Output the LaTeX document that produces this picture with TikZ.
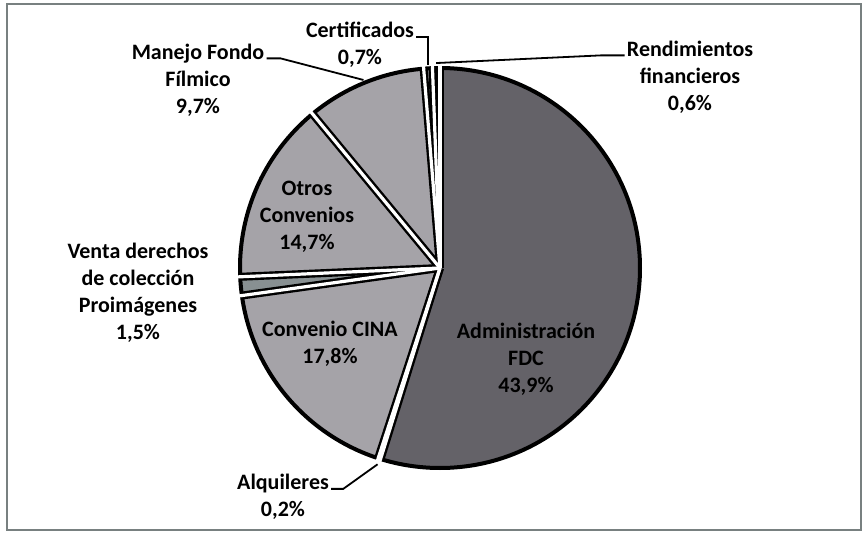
\documentclass[tikz,border=0pt]{standalone}
\usepackage{fontspec}
\setmainfont{Carlito}
\usetikzlibrary{calc}
\definecolor{darkslice}{RGB}{100,98,104}
\definecolor{lightslice}{RGB}{165,163,168}
\definecolor{ventaslice}{RGB}{136,144,146}
\definecolor{framegray}{RGB}{120,128,128}

\begin{document}
\begin{tikzpicture}[x=0.5pt,y=0.5pt]
		\useasboundingbox (0,0) rectangle (864,532);
		\tikzstyle{LabelStyle}=[align=center,inner sep=0pt,font=\bfseries\fontsize{11}{13.5}\selectfont]
		\tikzstyle{LeaderStyle}=[draw=black,line width=0.9pt]
		\tikzstyle{RimStyle}=[draw=black,line width=2pt]
		\draw[framegray,line width=1pt] (7,2) rectangle (861,528);
		\coordinate (C) at (440,264);
		\def\R{100pt}
		% slices, counter-clockwise from 12 o'clock
		\foreach \a/\b/\c in {90/92.16/lightslice,92.16/94.68/lightslice,94.68/129.6/lightslice,129.6/182.52/lightslice,182.52/187.92/ventaslice,187.92/252/lightslice,252/252.72/lightslice,252.72/450/darkslice}
			\fill[\c] (C) -- ++(\a:\R) arc[start angle=\a,end angle=\b,radius=\R] -- cycle;
		\draw[RimStyle] (C) circle[radius=\R];
		\foreach \a in {90,92.16,94.68,129.6,182.52,187.92,252,252.72}
			\draw[line width=4pt] (C) -- ++(\a:\R);
		\foreach \a in {90,92.16,94.68,129.6,182.52,187.92,252,252.72}
			\draw[white,line width=1.6pt] (C) -- ++(\a:101.8pt);
		% labels
		\node[LabelStyle] (cert) at (360,487) {Certificados\\0,7\%};
		\node[LabelStyle] (rend) at (690,455) {Rendimientos\\financieros\\0,6\%};
		\node[LabelStyle] (manejo) at (198,452) {Manejo Fondo\\Fílmico\\9,7\%};
		\node[LabelStyle] (venta) at (138,239) {Venta derechos\\de colección\\Proimágenes\\1,5\%};
		\node[LabelStyle] (alq) at (283,35) {Alquileres\\0,2\%};
		\node[LabelStyle] (otros) at (307,315) {Otros\\Convenios\\14,7\%};
		\node[LabelStyle] (cina) at (330,188) {Convenio CINA\\17,8\%};
		\node[LabelStyle] (admin) at (526,173) {Administración\\FDC\\43,9\%};
		% leader lines
		\coordinate (certP) at ($(C)+(93.42:101.5pt)$);
		\coordinate (rendP) at ($(C)+(91.08:102.5pt)$);
		\coordinate (manejoP) at ($(C)+(112.14:101.5pt)$);
		\coordinate (alqP) at ($(C)+(252.36:103pt)$);
		\draw[LeaderStyle] ([xshift=1pt,yshift=-7.5pt]cert.north east) -| (certP);
		\draw[LeaderStyle] ([xshift=-1pt,yshift=-7.5pt]rend.north west) -- ++(-12pt,0) -- (rendP);
		\draw[LeaderStyle] ([xshift=1pt,yshift=-7.5pt]manejo.north east) -- ++(7pt,0) -- (manejoP);
		\draw[LeaderStyle] ([xshift=1pt,yshift=-7.5pt]alq.north east) -- ++(6pt,0) -- (alqP);
\end{tikzpicture}
\end{document}
